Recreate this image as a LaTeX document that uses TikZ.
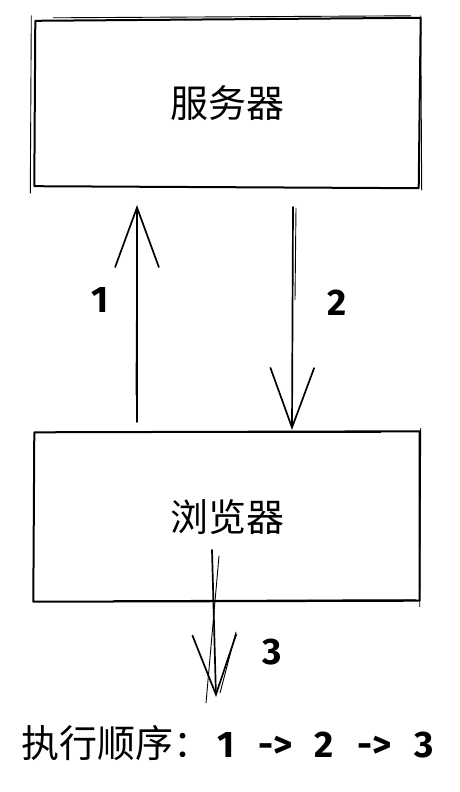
\documentclass[tikz,border=0pt]{standalone}
\usepackage{fontspec}
\setmainfont{Noto Sans CJK SC}
\newfontfamily\hand{Fira Sans}
\usetikzlibrary{arrows.meta}
\begin{document}
\begin{tikzpicture}[x=1pt,y=-1pt,
  box/.style={draw=none, minimum width=387pt, inner sep=0pt,
              font=\fontsize{38}{40}\selectfont},
  edge/.style={line width=2pt, line cap=round, line join=round},
  rough/.style={line width=0.9pt, line cap=round},
  flow/.style={line width=1.7pt, line cap=round,
               -{Straight Barb[length=60pt,width=44pt,line width=1.7pt]}},
  num/.style={font=\hand\bfseries\fontsize{37}{39}\selectfont, inner sep=0pt}]
\useasboundingbox (0,0) rectangle (460,792);

% the two boxes
\node[box, minimum height=168pt] (server) at (227,103) {服务器};
\node[box, minimum height=171pt] (browser) at (227,517) {浏览器};

% hand-drawn outlines of the server box
\draw[edge] ([shift={(2,2)}]server.north west) -- ([shift={(0,-1)}]server.north east)
  -- ([shift={(-2,1)}]server.south east) -- ([shift={(1,-1)}]server.south west) -- cycle;
\draw[rough] ([shift={(-2,-3)}]server.north west) -- ([shift={(-3,6)}]server.south west);
\draw[rough] ([shift={(0,-3)}]server.north east) -- ([shift={(1,3)}]server.south east);
\draw[rough] ([shift={(20,-1)}]server.north west) -- ([shift={(-10,-3)}]server.north east);

% hand-drawn outlines of the browser box
\draw[edge] ([shift={(1,1)}]browser.north west) -- ([shift={(-1,0)}]browser.north east)
  -- ([shift={(-1,-2)}]browser.south east) -- ([shift={(0,-1)}]browser.south west) -- cycle;
\draw[rough] ([shift={(30,1)}]browser.north west) -- ([shift={(-40,1)}]browser.north east);
\draw[rough] ([shift={(80,-2)}]browser.south west) -- ([shift={(-5,-3)}]browser.south east);
\draw[rough] ([shift={(0,-3)}]browser.north east) -- ([shift={(-1,4)}]browser.south east);

% request: browser -> server
\coordinate (reqS) at (137,422);
\coordinate (reqE) at (137,205);
\draw[flow] (reqS) -- (reqE);
\draw[rough] (136,395) -- (137,230);
\node[num] (n1) at (100,300) {1};

% response: server -> browser
\coordinate (resS) at (293,207);
\coordinate (resE) at (292,430);
\draw[flow] (resS) -- (resE);
\draw[rough] (296,208) -- (295,300);
\node[num] (n2) at (337,303) {2};

% render step out of the browser
\coordinate (renS) at (212,550);
\coordinate (renE) at (216,697);
\draw[flow] (renS) -- (renE);
\draw[rough] (219,556) -- (206,703);
\draw[rough] (236,632) -- (220,693);
\node[num] (n3) at (272,652) {3};

% execution order
\node[anchor=base west, inner sep=0pt, font=\fontsize{38}{40}\selectfont] (order) at (21,757)
  {执行顺序：\hspace{6pt}{\hand\bfseries\fontsize{37}{39}\selectfont 1\hspace{24pt}->\hspace{22pt}2\hspace{24pt}->\hspace{22pt}3}};
\end{tikzpicture}
\end{document}
